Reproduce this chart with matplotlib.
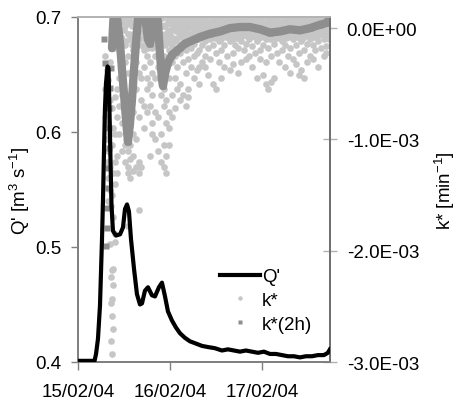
import matplotlib
matplotlib.use("Agg")
import matplotlib.pyplot as plt
from matplotlib.lines import Line2D

plt.rcParams['font.family'] = ['Liberation Sans', 'DejaVu Sans']
plt.rcParams['mathtext.fontset'] = 'custom'
plt.rcParams['mathtext.rm'] = 'Liberation Sans'
plt.rcParams['mathtext.it'] = 'Liberation Sans:italic'
plt.rcParams['mathtext.bf'] = 'Liberation Sans:bold'

# ---------------- data ----------------
# time in days since 15/02/04 00:00
x_tick_pos = [0, 1, 2]
x_tick_labels = ["15/02/04", "16/02/04", "17/02/04"]
q_ticks = [0.4, 0.5, 0.6, 0.7]
q_tick_labels = ["0.4", "0.5", "0.6", "0.7"]
k_ticks = [0.0, -1.0e-3, -2.0e-3, -3.0e-3]
k_tick_labels = ["0.0E+00", "-1.0E-03", "-2.0E-03", "-3.0E-03"]

# discharge Q' [m3 s-1]
q_t = [0.0, 0.18, 0.196, 0.217, 0.239, 0.25, 0.261, 0.272, 0.283, 0.293, 0.304,
       0.321, 0.332, 0.342, 0.353, 0.364, 0.38, 0.413, 0.457, 0.489, 0.511, 0.533,
       0.554, 0.576, 0.609, 0.641, 0.674, 0.696, 0.728, 0.761, 0.804, 0.837, 0.88,
       0.913, 0.946, 0.978, 1.022, 1.065, 1.109, 1.163, 1.217, 1.283, 1.348, 1.413,
       1.489, 1.565, 1.63, 1.696, 1.761, 1.826, 1.891, 1.957, 2.022, 2.087, 2.152,
       2.217, 2.283, 2.348, 2.413, 2.478, 2.543, 2.609, 2.674, 2.717, 2.739]
q_val = [0.401, 0.401, 0.407, 0.420, 0.449, 0.478, 0.507, 0.542, 0.585, 0.620, 0.642,
         0.657, 0.655, 0.620, 0.577, 0.537, 0.514, 0.510, 0.511, 0.517, 0.533, 0.537,
         0.531, 0.507, 0.481, 0.459, 0.450, 0.451, 0.462, 0.465, 0.458, 0.457, 0.465,
         0.469, 0.457, 0.444, 0.436, 0.430, 0.425, 0.421, 0.418, 0.416, 0.414, 0.413,
         0.412, 0.410, 0.411, 0.410, 0.409, 0.410, 0.409, 0.408, 0.409, 0.407, 0.407,
         0.406, 0.405, 0.405, 0.404, 0.405, 0.405, 0.406, 0.406, 0.408, 0.411]

# k* raw estimates [1E-3 min-1], grouped per time column
kstar_t = [0.29, 0.31, 0.33, 0.35, 0.36, 0.37, 0.38, 0.40, 0.42,
           0.45, 0.48, 0.51, 0.54, 0.57, 0.60, 0.63, 0.66, 0.69, 0.72, 0.75, 0.78,
           0.81, 0.84, 0.87, 0.90, 0.93, 0.96, 0.99, 1.02, 1.05, 1.08, 1.11, 1.14,
           1.17, 1.20, 1.23, 1.26, 1.29, 1.32, 1.35, 1.38, 1.41, 1.44, 1.47, 1.50,
           1.53, 1.56, 1.59, 1.62, 1.65, 1.68, 1.71, 1.74, 1.77, 1.80, 1.83, 1.86,
           1.89, 1.92, 1.95, 1.98, 2.01, 2.04, 2.07, 2.10, 2.13, 2.16, 2.19, 2.22,
           2.25, 2.28, 2.31, 2.34, 2.37, 2.40, 2.43, 2.46, 2.49, 2.52, 2.55, 2.58,
           2.61, 2.64, 2.67, 2.70, 2.73]
kstar_k = [
    [-0.25, -0.55, -0.80],
    [-0.38, -0.70, -1.00, -1.20],
    [-0.47, -0.85, -1.10, -1.35, -1.55],
    [-0.30, -0.65, -0.95, -1.25, -1.45, -1.94],
    [-1.60, -2.24, -2.47, -2.81],
    [-0.72, -1.05, -1.50, -2.17, -2.43, -2.59, -2.93],
    [-0.90, -1.30, -1.70, -2.16, -2.31, -2.70],
    [-0.62, -0.95, -1.20, -1.40, -1.85, -1.92],
    [-0.55, -0.80, -1.15, -1.30],
    [0.05, -0.20, -0.45, -0.70, -0.95],
    [-0.10, -0.35, -0.60, -0.85, -1.10],
    [0.02, -0.15, -0.30, -1.05, -1.20],
    [-0.05, -0.25, -0.40, -1.10, -1.25, -1.30, -1.78],
    [0.05, -0.10, -1.05, -1.18, -1.35],
    [-0.05, -0.20, -0.75, -0.95, -1.15, -1.28],
    [0.03, -0.30, -0.55, -1.00, -1.25],
    [-0.10, -0.40, -0.80, -1.20, -1.30, -1.63],
    [0.05, -0.15, -0.45, -0.65, -1.25],
    [-0.05, -0.20, -0.35, -0.70, -0.90],
    [0.02, -0.25, -0.45, -0.55, -0.75],
    [-0.05, -0.30, -0.50, -0.70, -1.15],
    [0.04, -0.18, -0.40, -0.60, -0.85, -0.95],
    [-0.08, -0.25, -0.45, -0.75, -1.00],
    [0.00, -0.15, -0.35, -0.80, -1.10],
    [-0.05, -0.40, -0.60, -0.95, -1.20],
    [0.02, -0.25, -0.55, -0.70, -1.05, -1.25],
    [-0.10, -0.30, -0.65, -0.85, -1.15, -1.30],
    [0.05, -0.20, -0.45, -0.75, -0.90, -1.05],
    [-0.02, -0.15, -0.30, -0.60, -0.80],
    [0.06, -0.10, -0.25, -0.45, -0.72],
    [0.00, -0.18, -0.35, -0.55],
    [0.04, -0.08, -0.22, -0.50, -0.65],
    [-0.03, -0.15, -0.30, -0.60],
    [0.07, -0.05, -0.20, -0.40, -0.70],
    [0.01, -0.12, -0.28, -0.55, -0.62],
    [0.05, -0.06, -0.18, -0.35],
    [-0.02, -0.14, -0.25, -0.45],
    [0.06, -0.04, -0.22, -0.38],
    [0.02, -0.10, -0.20, -0.35, -0.50],
    [0.08, -0.03, -0.15, -0.30],
    [0.00, -0.12, -0.25, -0.35],
    [0.05, -0.05, -0.18, -0.42],
    [-0.02, -0.10, -0.28],
    [0.07, -0.04, -0.15, -0.50],
    [0.02, -0.08, -0.22, -0.55],
    [0.06, -0.02, -0.12, -0.30],
    [0.00, -0.10, -0.20, -0.45],
    [0.08, -0.05, -0.15, -0.35],
    [0.03, -0.07, -0.25],
    [0.06, -0.03, -0.12, -0.38],
    [0.01, -0.10, -0.22, -0.32],
    [0.07, -0.04, -0.15],
    [0.03, -0.08, -0.18, -0.40],
    [0.08, -0.02, -0.12, -0.30],
    [0.02, -0.06, -0.20],
    [0.06, -0.03, -0.14, -0.28],
    [0.00, -0.10, -0.25],
    [0.07, -0.05, -0.16, -0.35],
    [0.03, -0.08, -0.22],
    [0.08, -0.02, -0.12, -0.45],
    [0.01, -0.07, -0.20, -0.28],
    [0.05, -0.04, -0.15, -0.42],
    [0.00, -0.10, -0.30, -0.50],
    [0.06, -0.05, -0.18, -0.55],
    [0.02, -0.08, -0.25, -0.48],
    [0.07, -0.03, -0.14, -0.45],
    [0.01, -0.09, -0.22],
    [0.05, -0.06, -0.30],
    [0.00, -0.12, -0.20],
    [0.08, -0.04, -0.15, -0.35],
    [0.02, -0.08, -0.25],
    [0.06, -0.02, -0.18, -0.40],
    [0.00, -0.10, -0.28],
    [0.07, -0.05, -0.15, -0.32],
    [0.03, -0.08, -0.22, -0.42],
    [0.08, -0.03, -0.12, -0.38],
    [0.01, -0.06, -0.20, -0.45],
    [0.05, -0.04, -0.14, -0.30],
    [0.00, -0.10, -0.25],
    [0.06, -0.02, -0.15, -0.28],
    [0.02, -0.07, -0.20],
    [0.08, -0.03, -0.12, -0.35],
    [0.03, -0.05, -0.18],
    [0.07, -0.02, -0.10, -0.25],
    [0.02, -0.06, -0.16, -0.22],
    [0.08, 0.00, -0.10],
]

# further k* estimates filling the dense band just below zero
kband_t = [0.465, 0.495, 0.525, 0.555, 0.585, 0.615, 0.645, 0.675, 0.705, 0.735,
           0.765, 0.795, 0.825, 0.855, 0.885, 0.915, 0.945, 0.975, 1.005, 1.035,
           1.065, 1.095, 1.125, 1.155, 1.185, 1.215, 1.245, 1.275, 1.305, 1.335,
           1.365, 1.395, 1.425, 1.455, 1.485, 1.515, 1.545, 1.575, 1.605, 1.635,
           1.665, 1.695, 1.725, 1.755, 1.785, 1.815, 1.845, 1.875, 1.905, 1.935,
           1.965, 1.995, 2.025, 2.055, 2.085, 2.115, 2.145, 2.175, 2.205, 2.235,
           2.265, 2.295, 2.325, 2.355, 2.385, 2.415, 2.445, 2.475, 2.505, 2.535,
           2.565, 2.595, 2.625, 2.655, 2.685, 2.715]
kband_k = [
    [0.06, -0.08], [0.09, -0.02], [0.04, -0.12], [0.08, -0.05], [0.02, -0.15],
    [0.07, -0.04], [0.05, -0.10], [0.09, -0.03], [0.03, -0.09, -0.16],
    [0.07, -0.02, -0.12], [0.05, -0.06, -0.18], [0.09, 0.01, -0.10],
    [0.04, -0.04, -0.14], [0.08, -0.01, -0.09], [0.06, -0.07, -0.16],
    [0.09, 0.02, -0.11], [0.03, -0.05, -0.15], [0.07, -0.02, -0.08],
    [0.05, -0.06, -0.13], [0.09, 0.01, -0.09], [0.04, -0.03, -0.12],
    [0.08, 0.00, -0.07], [0.06, -0.05, -0.14], [0.09, 0.02, -0.10],
    [0.03, -0.02, -0.09], [0.07, 0.01, -0.06], [0.05, -0.04, -0.11],
    [0.09, 0.03, -0.07], [0.04, -0.01, -0.10], [0.08, 0.02, -0.05],
    [0.06, -0.03, -0.09], [0.09, 0.04, -0.06], [0.03, -0.01, -0.08],
    [0.07, 0.02, -0.04], [0.05, -0.02, -0.09], [0.09, 0.03, -0.05],
    [0.04, 0.00, -0.07], [0.08, 0.02, -0.03], [0.06, -0.02, -0.08],
    [0.09, 0.04, -0.05], [0.03, -0.01, -0.06], [0.07, 0.03, -0.04],
    [0.05, -0.02, -0.09], [0.09, 0.04, -0.03], [0.04, 0.00, -0.07],
    [0.08, 0.02, -0.05], [0.06, -0.02, -0.08], [0.09, 0.03, -0.04],
    [0.03, -0.01, -0.07], [0.07, 0.02, -0.05], [0.05, -0.03, -0.09],
    [0.09, 0.04, -0.06], [0.04, -0.01, -0.08], [0.08, 0.01, -0.06],
    [0.06, -0.03, -0.10], [0.09, 0.02, -0.07], [0.03, -0.02, -0.09],
    [0.07, 0.01, -0.05], [0.05, -0.03, -0.08], [0.09, 0.03, -0.06],
    [0.04, -0.01, -0.09], [0.08, 0.02, -0.05], [0.06, -0.02, -0.07],
    [0.09, 0.03, -0.04], [0.03, -0.01, -0.08], [0.07, 0.02, -0.06],
    [0.05, -0.02, -0.09], [0.09, 0.03, -0.05], [0.04, 0.00, -0.07],
    [0.08, 0.02, -0.04], [0.06, -0.01, -0.08], [0.09, 0.04, -0.03],
    [0.03, 0.00, -0.06], [0.07, 0.03, -0.04], [0.05, 0.01, -0.07],
    [0.09, 0.05, -0.02],
]

# k*(2h) smoothed estimates [1E-3 min-1]
k2h_t = [0.283, 0.293, 0.304, 0.310, 0.315, 0.321, 0.326, 0.332, 0.337, 0.342,
         0.348, 0.359, 0.370, 0.380, 0.391, 0.402, 0.424, 0.457, 0.478, 0.50,
         0.522, 0.543, 0.565, 0.587, 0.609, 0.630, 0.652, 0.674, 0.717, 0.739,
         0.761, 0.783, 0.804, 0.826, 0.848, 0.870, 0.891, 0.913, 0.924, 0.946,
         0.978, 1.022, 1.065, 1.109, 1.163, 1.217, 1.272, 1.326, 1.435, 1.543,
         1.652, 1.761, 1.870, 1.978, 2.087, 2.196, 2.304, 2.413, 2.522, 2.630,
         2.696, 2.739]
k2h_k = [-0.10, -0.31, -1.96, -1.80, -1.62, -1.44, -1.26, -1.08, -0.90, -0.72,
         -0.54, -0.36, -0.18, 0.0, 0.15, 0.25, 0.10, -0.14, -0.37, -0.59,
         -0.82, -1.02, -0.86, -0.64, -0.37, -0.14, 0.08, 0.25, 0.30, 0.04,
         -0.10, -0.14, -0.05, 0.10, 0.20, 0.04, -0.23, -0.46, -0.52, -0.41,
         -0.31, -0.24, -0.21, -0.18, -0.14, -0.12, -0.10, -0.08, -0.05, -0.03,
         0.0, 0.01, 0.01, -0.01, -0.04, -0.03, -0.01, -0.02, 0.0, 0.03,
         0.045, 0.08]

# ---------------- plot ----------------
FS = 13.5
GRAY_AX = '#808080'
C_K = '#c6c6c6'
C_K2 = '#8e8e8e'

fig = plt.figure(figsize=(4.56, 4.02), dpi=100)
ax = fig.add_axes([78 / 456, 39 / 402, 252 / 456, 345 / 402])
ax2 = ax.twinx()
ax.set_zorder(ax2.get_zorder() + 1)
ax.patch.set_visible(False)

ax.plot(q_t, q_val, color='black', lw=3.0, solid_joinstyle='round', zorder=3)

kx, ky = [], []
for t, vals in zip(kstar_t, kstar_k):
    for v in vals:
        kx.append(t)
        ky.append(v * 1e-3)
for t, vals in zip(kband_t, kband_k):
    for v in vals:
        kx.append(t)
        ky.append(v * 1e-3)
ax2.plot(kx, ky, ls='none', marker='o', ms=4.8, mfc=C_K, mec='none', zorder=2)

k2y = [v * 1e-3 for v in k2h_k]
# smooth part drawn as a dense band, early rising column as separate squares
start = 12
ax2.plot(k2h_t[start:], k2y[start:], color=C_K2, lw=6, solid_joinstyle='round',
         solid_capstyle='round', zorder=3)
ax2.plot(k2h_t, k2y, ls='none', marker='s', ms=4.5, mfc=C_K2, mec='none', zorder=3)

ax.set_xlim(0, 2.74)
ax.set_ylim(0.4, 0.7)
ax2.set_ylim(-3.0e-3, 0.1e-3)

ax.set_xticks(x_tick_pos)
ax.set_xticklabels(x_tick_labels, fontsize=FS)
ax.set_yticks(q_ticks)
ax.set_yticklabels(q_tick_labels, fontsize=FS)
ax2.set_yticks(k_ticks)
ax2.set_yticklabels(k_tick_labels, fontsize=FS)

ax.tick_params(axis='x', direction='out', length=6, width=1, color=GRAY_AX, pad=9)
ax.tick_params(axis='y', direction='out', length=5, width=1, color=GRAY_AX, pad=7)
ax2.tick_params(axis='y', direction='inout', length=10, width=1, color='#b0b0b0', pad=7)

for a in (ax, ax2):
    for s in ('left', 'bottom'):
        a.spines[s].set_color(GRAY_AX)
        a.spines[s].set_linewidth(1.3)
    a.spines['top'].set_color('#b4b4b4')
    a.spines['top'].set_linewidth(1.3)
    a.spines['right'].set_color('#707070')
    a.spines['right'].set_linewidth(1.3)

ax.set_ylabel("Q' [m$^{3}$ s$^{-1}$]", fontsize=FS, labelpad=2)
ax2.set_ylabel("k* [min$^{-1}$]", fontsize=FS, labelpad=10)

handles = [
    Line2D([], [], color='black', lw=3.0),
    Line2D([], [], ls='none', marker='o', ms=3.2, mfc=C_K, mec='none'),
    Line2D([], [], ls='none', marker='s', ms=3.0, mfc=C_K2, mec='none'),
]
ax.legend(handles, ["Q'", "k*", "k*(2h)"], loc='upper left',
          bbox_to_anchor=(0.565, 0.272), frameon=False, fontsize=FS,
          handlelength=2.1, handletextpad=0.1, labelspacing=0.35,
          borderpad=0, borderaxespad=0)

fig.savefig('out.png', dpi=100)
